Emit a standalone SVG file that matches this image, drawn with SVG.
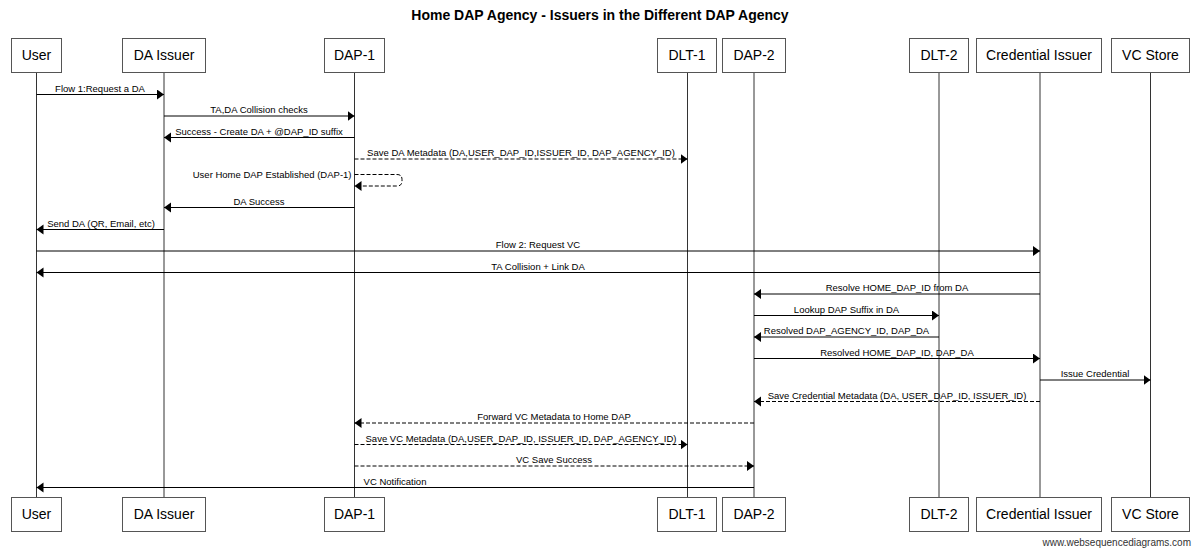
<svg xmlns="http://www.w3.org/2000/svg" width="1200" height="556" viewBox="0 0 1200 556">
<style>
  .bg { fill: #ffffff; }
  .title { font-family: "Liberation Sans", Arial, sans-serif; font-size: 14px; font-weight: bold; fill: #000; text-anchor: middle; }
  .box { fill: #ffffff; stroke: #555555; stroke-width: 1; }
  .pname { font-family: "Liberation Sans", Arial, sans-serif; font-size: 14px; fill: #000; text-anchor: middle; }
  .life { stroke: #333333; stroke-width: 1; fill: none; }
  .msg { stroke: #000000; stroke-width: 1; fill: none; marker-end: url(#arrow); }
  .dash { stroke-dasharray: 4 2; }
  .lbl { font-family: "Liberation Sans", Arial, sans-serif; font-size: 9.5px; fill: #000; text-anchor: middle; }
  .lblr { text-anchor: end; }
  .footer { font-family: "Liberation Sans", Arial, sans-serif; font-size: 10px; fill: #333; text-anchor: end; }
</style>
<defs>
  <marker id="arrow" markerUnits="userSpaceOnUse" markerWidth="8" markerHeight="11" refX="7" refY="5" orient="auto">
    <path d="M0,0 L7,5 L0,10 z" fill="#000"/>
  </marker>
</defs>
<rect class="bg" x="0" y="0" width="1200" height="556"/>
<text class="title" x="600" y="20">Home DAP Agency - Issuers in the Different DAP Agency</text>

<g id="lifelines">
  <line class="life" x1="36.5" y1="72" x2="36.5" y2="497"/>
  <line class="life" x1="164" y1="72" x2="164" y2="497"/>
  <line class="life" x1="354.5" y1="72" x2="354.5" y2="497"/>
  <line class="life" x1="687.5" y1="72" x2="687.5" y2="497"/>
  <line class="life" x1="754" y1="72" x2="754" y2="497"/>
  <line class="life" x1="939" y1="72" x2="939" y2="497"/>
  <line class="life" x1="1040" y1="72" x2="1040" y2="497"/>
  <line class="life" x1="1150.5" y1="72" x2="1150.5" y2="497"/>
</g>

<g id="user">
  <rect class="box" x="11.5" y="38.5" width="50" height="34"/>
  <text class="pname" x="36.5" y="60">User</text>
  <rect class="box" x="11.5" y="497.5" width="50" height="34"/>
  <text class="pname" x="36.5" y="519">User</text>
</g>
<g id="da-issuer">
  <rect class="box" x="122.5" y="38.5" width="83" height="34"/>
  <text class="pname" x="164" y="60">DA Issuer</text>
  <rect class="box" x="122.5" y="497.5" width="83" height="34"/>
  <text class="pname" x="164" y="519">DA Issuer</text>
</g>
<g id="dap-1">
  <rect class="box" x="324.5" y="38.5" width="60" height="34"/>
  <text class="pname" x="354.5" y="60">DAP-1</text>
  <rect class="box" x="324.5" y="497.5" width="60" height="34"/>
  <text class="pname" x="354.5" y="519">DAP-1</text>
</g>
<g id="dlt-1">
  <rect class="box" x="657.5" y="38.5" width="59" height="34"/>
  <text class="pname" x="687" y="60">DLT-1</text>
  <rect class="box" x="657.5" y="497.5" width="59" height="34"/>
  <text class="pname" x="687" y="519">DLT-1</text>
</g>
<g id="dap-2">
  <rect class="box" x="722.5" y="38.5" width="63" height="34"/>
  <text class="pname" x="754" y="60">DAP-2</text>
  <rect class="box" x="722.5" y="497.5" width="63" height="34"/>
  <text class="pname" x="754" y="519">DAP-2</text>
</g>
<g id="dlt-2">
  <rect class="box" x="909.5" y="38.5" width="59" height="34"/>
  <text class="pname" x="939" y="60">DLT-2</text>
  <rect class="box" x="909.5" y="497.5" width="59" height="34"/>
  <text class="pname" x="939" y="519">DLT-2</text>
</g>
<g id="credential-issuer">
  <rect class="box" x="976.5" y="38.5" width="125" height="34"/>
  <text class="pname" x="1039" y="60">Credential Issuer</text>
  <rect class="box" x="976.5" y="497.5" width="125" height="34"/>
  <text class="pname" x="1039" y="519">Credential Issuer</text>
</g>
<g id="vc-store">
  <rect class="box" x="1111.5" y="38.5" width="78" height="34"/>
  <text class="pname" x="1150.5" y="60">VC Store</text>
  <rect class="box" x="1111.5" y="497.5" width="78" height="34"/>
  <text class="pname" x="1150.5" y="519">VC Store</text>
</g>

<g id="connectors">
  <line class="msg" x1="36.5" y1="94.5" x2="164" y2="94.5"/>
  <text class="lbl" x="100" y="91.5">Flow 1:Request a DA</text>

  <line class="msg" x1="164" y1="116" x2="354.5" y2="116"/>
  <text class="lbl" x="259" y="113">TA,DA Collision checks</text>

  <line class="msg" x1="354.5" y1="137.5" x2="164" y2="137.5"/>
  <text class="lbl" x="259" y="134.5">Success - Create DA + @DAP_ID suffix</text>

  <line class="msg dash" x1="354.5" y1="159" x2="687.5" y2="159"/>
  <text class="lbl" x="521" y="156">Save DA Metadata (DA,USER_DAP_ID,ISSUER_ID, DAP_AGENCY_ID)</text>

  <path class="msg dash" d="M354.5,174.5 H397 Q402,174.5 402,179.5 V181 Q402,186 397,186 H354.5"/>
  <text class="lbl lblr" x="351.5" y="178">User Home DAP Established (DAP-1)</text>

  <line class="msg" x1="354.5" y1="207.5" x2="164" y2="207.5"/>
  <text class="lbl" x="259" y="204.5">DA Success</text>

  <line class="msg" x1="164" y1="229.5" x2="36.5" y2="229.5"/>
  <text class="lbl" x="101" y="226.5">Send DA (QR, Email, etc)</text>

  <line class="msg" x1="36.5" y1="251" x2="1040" y2="251"/>
  <text class="lbl" x="538" y="248">Flow 2: Request VC</text>

  <line class="msg" x1="1040" y1="272.5" x2="36.5" y2="272.5"/>
  <text class="lbl" x="538" y="269.5">TA Collision + Link DA</text>

  <line class="msg" x1="1040" y1="294" x2="754" y2="294"/>
  <text class="lbl" x="897" y="291">Resolve HOME_DAP_ID from DA</text>

  <line class="msg" x1="754" y1="315.5" x2="939" y2="315.5"/>
  <text class="lbl" x="846.5" y="312.5">Lookup DAP Suffix in DA</text>

  <line class="msg" x1="939" y1="337" x2="754" y2="337"/>
  <text class="lbl" x="846.5" y="334">Resolved DAP_AGENCY_ID, DAP_DA</text>

  <line class="msg" x1="754" y1="358.5" x2="1040" y2="358.5"/>
  <text class="lbl" x="897" y="355.5">Resolved HOME_DAP_ID, DAP_DA</text>

  <line class="msg" x1="1040" y1="380" x2="1150.5" y2="380"/>
  <text class="lbl" x="1095" y="377">Issue Credential</text>

  <line class="msg dash" x1="1040" y1="401.5" x2="754" y2="401.5"/>
  <text class="lbl" x="897" y="398.5">Save Credential Metadata (DA, USER_DAP_ID, ISSUER_ID)</text>

  <line class="msg dash" x1="754" y1="423" x2="354.5" y2="423"/>
  <text class="lbl" x="554" y="420">Forward VC Metadata to Home DAP</text>

  <line class="msg dash" x1="354.5" y1="444.5" x2="687.5" y2="444.5"/>
  <text class="lbl" x="521" y="441.5">Save VC Metadata (DA,USER_DAP_ID, ISSUER_ID, DAP_AGENCY_ID)</text>

  <line class="msg dash" x1="354.5" y1="466" x2="754" y2="466"/>
  <text class="lbl" x="554" y="463">VC Save Success</text>

  <line class="msg" x1="754" y1="487.5" x2="36.5" y2="487.5"/>
  <text class="lbl" x="395" y="484.5">VC Notification</text>
</g>

<text class="footer" x="1191" y="546">www.websequencediagrams.com</text>
</svg>
